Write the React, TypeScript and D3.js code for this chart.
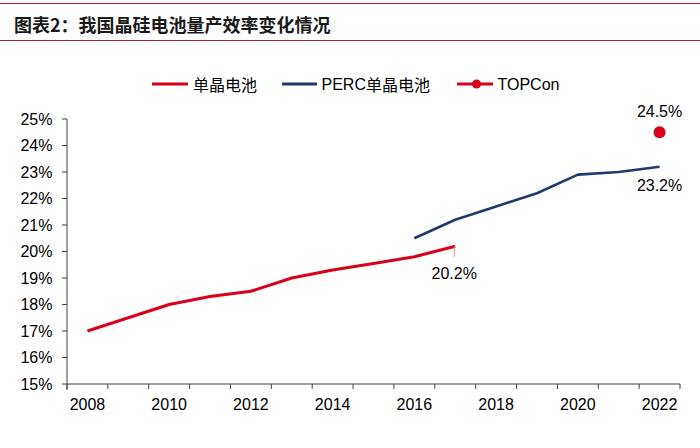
import React from "react";
import * as d3 from "d3";

const years = [2008, 2009, 2010, 2011, 2012, 2013, 2014, 2015, 2016, 2017, 2018, 2019, 2020, 2021, 2022];
const xTickLabels = ["2008", "2010", "2012", "2014", "2016", "2018", "2020", "2022"];
const yTicks = [15, 16, 17, 18, 19, 20, 21, 22, 23, 24, 25];

const monoYears = [2008, 2009, 2010, 2011, 2012, 2013, 2014, 2015, 2016, 2017];
const monoValues = [17.0, 17.5, 18.0, 18.3, 18.5, 19.0, 19.3, 19.55, 19.8, 20.2];

const percYears = [2016, 2017, 2018, 2019, 2020, 2021, 2022];
const percValues = [20.5, 21.2, 21.7, 22.2, 22.9, 23.0, 23.2];

const topconYears = [2022];
const topconValues = [24.5];

const seriesNames = ["单晶电池", "PERC单晶电池", "TOPCon"];
const title = "图表2：我国晶硅电池量产效率变化情况";

const RED = "#D9001B";
const NAVY = "#1F3A6B";
const AXIS = "#404040";
const FONT = "'Liberation Sans', Arial, sans-serif";
const CJK = "'Noto Sans CJK SC', 'Liberation Sans', sans-serif";

export default function App() {
  const W = 700, H = 448;
  const x = d3.scaleBand<number>().domain(years).range([67, 680]).padding(0);
  const cx = (yr: number) => (x(yr) as number) + x.bandwidth() / 2;
  const y = d3.scaleLinear().domain([15, 25]).range([384, 119]);

  const line = d3.line<[number, number]>().x(d => cx(d[0])).y(d => y(d[1]));
  const monoData: [number, number][] = monoYears.map((yr, i) => [yr, monoValues[i]]);
  const percData: [number, number][] = percYears.map((yr, i) => [yr, percValues[i]]);

  const boundaries = years.map(yr => x(yr) as number).concat([680]);

  const lastMono = monoData[monoData.length - 1];
  const lastPerc = percData[percData.length - 1];

  return (
    <svg width={W} height={H} style={{ position: "absolute", left: 0, top: 0, background: "#fff" }}>
      {/* title block */}
      <line x1={0} x2={700} y1={3.5} y2={3.5} stroke="#A8243C" strokeWidth={1.2} />
      <line x1={0} x2={700} y1={40.5} y2={40.5} stroke="#A8243C" strokeWidth={1.2} />
      <text x={14} y={23.5} dominantBaseline="central" fontFamily={CJK} fontWeight="bold" fontSize={18} fill="#1a1a1a">
        {title}
      </text>

      {/* legend */}
      <g fontSize={16} fill="#000">
        <line x1={152} x2={188} y1={84} y2={84} stroke={RED} strokeWidth={3} />
        <text x={193} y={84} dominantBaseline="central" fontFamily={CJK}>{seriesNames[0]}</text>
        <line x1={282} x2={317} y1={84} y2={84} stroke={NAVY} strokeWidth={3} />
        <text x={321.5} y={84} dominantBaseline="central" fontFamily={FONT}>
          PERC<tspan fontFamily={CJK}>单晶电池</tspan>
        </text>
        <line x1={457} x2={493} y1={84} y2={84} stroke={RED} strokeWidth={3} />
        <circle cx={476.5} cy={84} r={4.5} fill={RED} />
        <text x={497.5} y={84} dominantBaseline="central" fontFamily={FONT}>{seriesNames[2]}</text>
      </g>

      {/* y axis */}
      <line x1={67} x2={67} y1={y(25)} y2={390} stroke={AXIS} strokeWidth={1} />
      {yTicks.map(t => (
        <g key={t}>
          <line x1={62} x2={67} y1={y(t)} y2={y(t)} stroke={AXIS} strokeWidth={1} />
          <text x={52.5} y={y(t)} dy="0.36em" textAnchor="end" fontFamily={FONT} fontSize={16} fill="#000">
            {t}%
          </text>
        </g>
      ))}

      {/* x axis */}
      <line x1={67} x2={680} y1={384} y2={384} stroke={AXIS} strokeWidth={1} />
      {boundaries.map((b, i) => (
        <line key={i} x1={b} x2={b} y1={384} y2={389} stroke={AXIS} strokeWidth={1} />
      ))}
      {xTickLabels.map(l => (
        <text key={l} x={cx(+l)} y={409.5} textAnchor="middle" fontFamily={FONT} fontSize={16} fill="#000">
          {l}
        </text>
      ))}

      {/* series */}
      <path d={line(monoData) as string} fill="none" stroke={RED} strokeWidth={3} strokeLinejoin="round" />
      <path d={line(percData) as string} fill="none" stroke={NAVY} strokeWidth={2.6} strokeLinejoin="round" />
      {topconYears.map((yr, i) => (
        <circle key={yr} cx={cx(yr)} cy={y(topconValues[i])} r={6} fill={RED} />
      ))}

      {/* labels */}
      <line x1={cx(lastMono[0]) - 1} x2={cx(lastMono[0]) - 1} y1={y(lastMono[1])} y2={257} stroke="#A6A6A6" strokeWidth={1} />
      <text x={cx(lastMono[0]) - 1} y={278.5} textAnchor="middle" fontFamily={FONT} fontSize={16} fill="#000">
        {lastMono[1].toFixed(1)}%
      </text>
      <text x={cx(lastPerc[0])} y={191} textAnchor="middle" fontFamily={FONT} fontSize={16} fill="#000">
        {lastPerc[1].toFixed(1)}%
      </text>
      {topconYears.map((yr, i) => (
        <text key={yr} x={cx(yr)} y={117} textAnchor="middle" fontFamily={FONT} fontSize={16} fill="#000">
          {topconValues[i].toFixed(1)}%
        </text>
      ))}
    </svg>
  );
}
